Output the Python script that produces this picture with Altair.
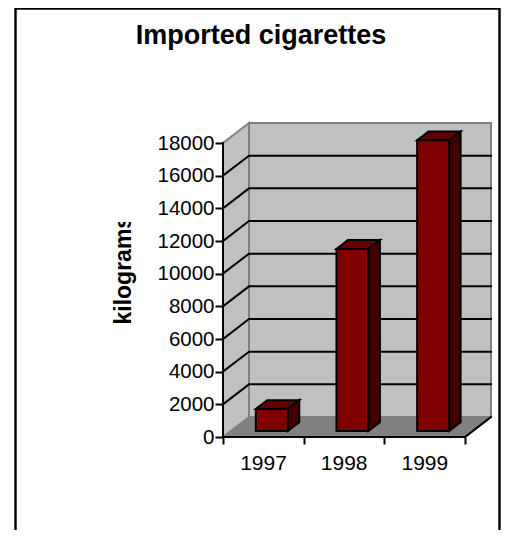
import altair as alt
import pandas as pd

# ---- values
years = ["1997", "1998", "1999"]
values = [1350, 11150, 17800]
y_ticks = [0, 2000, 4000, 6000, 8000, 10000, 12000, 14000, 16000, 18000]
x_ticks = [0, 1, 2, 3]
grid_levels = [2000, 4000, 6000, 8000, 10000, 12000, 14000, 16000]

# ---- oblique projection of the box: depth moves right and "up"
DX = 0.3223           # depth in category units
DY = 1224.5           # depth in kilograms
YMAX = 18000 + DY
XMAX = 3 + DX
BAR_LEFT, BAR_WIDTH = 0.31, 0.397
D1, D2 = 0.3, 0.74


def px(x, d):
    return x + d * DX


def py(v, d):
    return v + d * DY


xs = alt.Scale(domain=[0, XMAX], nice=False, zero=False)
ys = alt.Scale(domain=[0, YMAX], nice=False, zero=False)
X = alt.X("x:Q", scale=xs)
Y = alt.Y("y:Q", scale=ys)


def area(rows, color, stroke=None, sw=0):
    kw = dict(color=color, interpolate="linear")
    if stroke:
        kw.update(stroke=stroke, strokeWidth=sw, strokeJoin="miter")
    return alt.Chart(pd.DataFrame(rows)).mark_area(**kw).encode(
        x=X, y=alt.Y("y:Q", scale=ys, stack=None), y2="y2:Q", detail="id:N"
    )


def line(rows, color, sw):
    return alt.Chart(pd.DataFrame(rows)).mark_line(color=color, strokeWidth=sw, strokeCap="square").encode(
        x=X, y=Y, detail="id:N", order="o:Q"
    )


def para(idn, x0, x1, v, d0=0.0, d1=1.0):
    """horizontal face between two depths, as an area with x,y,y2"""
    a0, a1 = px(x0, d0), px(x0, d1)
    b0, b1 = px(x1, d0), px(x1, d1)
    lo, hi = py(v, d0), py(v, d1)
    return [
        dict(id=idn, x=a0, y=lo, y2=lo),
        dict(id=idn, x=a1, y=lo, y2=hi),
        dict(id=idn, x=b0, y=lo, y2=hi),
        dict(id=idn, x=b1, y=hi, y2=hi),
    ]


# frame of the picture
frame = alt.Chart(pd.DataFrame({"a": [0]})).mark_rect(fill=None, stroke="black", strokeWidth=2.4).encode(
    x=alt.value(-207.5), x2=alt.value(276.5), y=alt.value(-114.5), y2=alt.value(430)
)

# walls and floor
back = alt.Chart(pd.DataFrame([dict(x=px(0, 1), x2=px(3, 1), y=py(0, 1), y2=py(18000, 1))])).mark_rect(
    fill="#c0c0c0", stroke="#808080", strokeWidth=2
).encode(
    x=alt.X("x:Q", scale=xs, axis=alt.Axis(
        values=x_ticks, tickCount=4, title=None, domain=False, grid=False, tickSize=7, tickWidth=2, tickColor="black",
        labelExpr="['1997','1998','1999',''][datum.value]", labelOffset=40, labelFontSize=21,
        labelFont="Liberation Sans", labelColor="black", labelPadding=8, labelOverlap=False, labelFlush=False,
        labelBound=False)),
    x2="x2:Q",
    y=alt.Y("y:Q", scale=ys, axis=alt.Axis(
        values=y_ticks, tickCount=10, title="kilograms", titleFont="Liberation Sans", titleFontSize=23,
        titleFontWeight="bold", titleColor="black", titleX=-93, titleY=201, titleAlign="left",
        titleBaseline="alphabetic", titleAngle=-90,
        domain=False, grid=False, tickSize=8, tickWidth=2, tickColor="black", format="d",
        labelFontSize=20.5, labelFont="Liberation Sans", labelColor="black", labelPadding=1, labelOverlap=False,
        labelFlush=False, labelBound=False)),
    y2="y2:Q",
)
wall = area([dict(id="w", x=0, y=0, y2=18000), dict(id="w", x=DX, y=DY, y2=YMAX)], "#c0c0c0", "#808080", 2)
floor = area(para("f", 0, 3, 0), "#808080")

grid_rows = []
for i, g in enumerate(grid_levels):
    grid_rows += [dict(id=i, o=0, x=0, y=g), dict(id=i, o=1, x=DX, y=g + DY), dict(id=i, o=2, x=XMAX, y=g + DY)]
grid = line(grid_rows, "black", 2)

floor_edge = line([dict(id="e", o=0, x=3, y=0), dict(id="e", o=1, x=XMAX, y=DY)], "black", 2)
axis_lines = line(
    [dict(id="h", o=0, x=0, y=0), dict(id="h", o=1, x=3, y=0),
     dict(id="v", o=0, x=0, y=0), dict(id="v", o=1, x=0, y=18000)], "black", 2)

# bars
top_rows, side_rows, front_rows = [], [], []
for i, (yr, v) in enumerate(zip(years, values)):
    x0 = i + BAR_LEFT
    x1 = x0 + BAR_WIDTH
    top_rows += para(yr, x0, x1, v, D1, D2)
    side_rows += [
        dict(id=yr, x=px(x1, D1), y=py(0, D1), y2=py(v, D1)),
        dict(id=yr, x=px(x1, D2), y=py(0, D2), y2=py(v, D2)),
    ]
    front_rows.append(dict(x=px(x0, D1), x2=px(x1, D1), y=py(0, D1), y2=py(v, D1)))

tops = area(top_rows, "#600000", "black", 2)
sides = area(side_rows, "#400000", "black", 2)
fronts = alt.Chart(pd.DataFrame(front_rows)).mark_rect(fill="#800000", stroke="black", strokeWidth=2).encode(
    x=X, x2="x2:Q", y=Y, y2="y2:Q"
)

# the axis title is cut off in the reference
mask = alt.Chart(pd.DataFrame({"a": [0]})).mark_rect(fill="white").encode(
    x=alt.value(-115), x2=alt.value(-85), y=alt.value(70), y2=alt.value(99)
)

chart = alt.layer(back, frame, wall, floor, grid, floor_edge, axis_lines, tops, sides, fronts, mask).properties(
    width=268,
    height=314,
    padding={"left": 215, "top": 115, "right": 10, "bottom": 93},
    autosize=alt.AutoSizeParams(type="none"),
    title=alt.TitleParams(
        "Imported cigarettes", font="Liberation Sans", fontSize=27, fontWeight="bold", color="black",
        anchor="middle", dx=-96, dy=74, baseline="bottom",
    ),
).configure_view(stroke=None)

chart.save("out.html", embed_options={"renderer": "svg", "actions": False})
